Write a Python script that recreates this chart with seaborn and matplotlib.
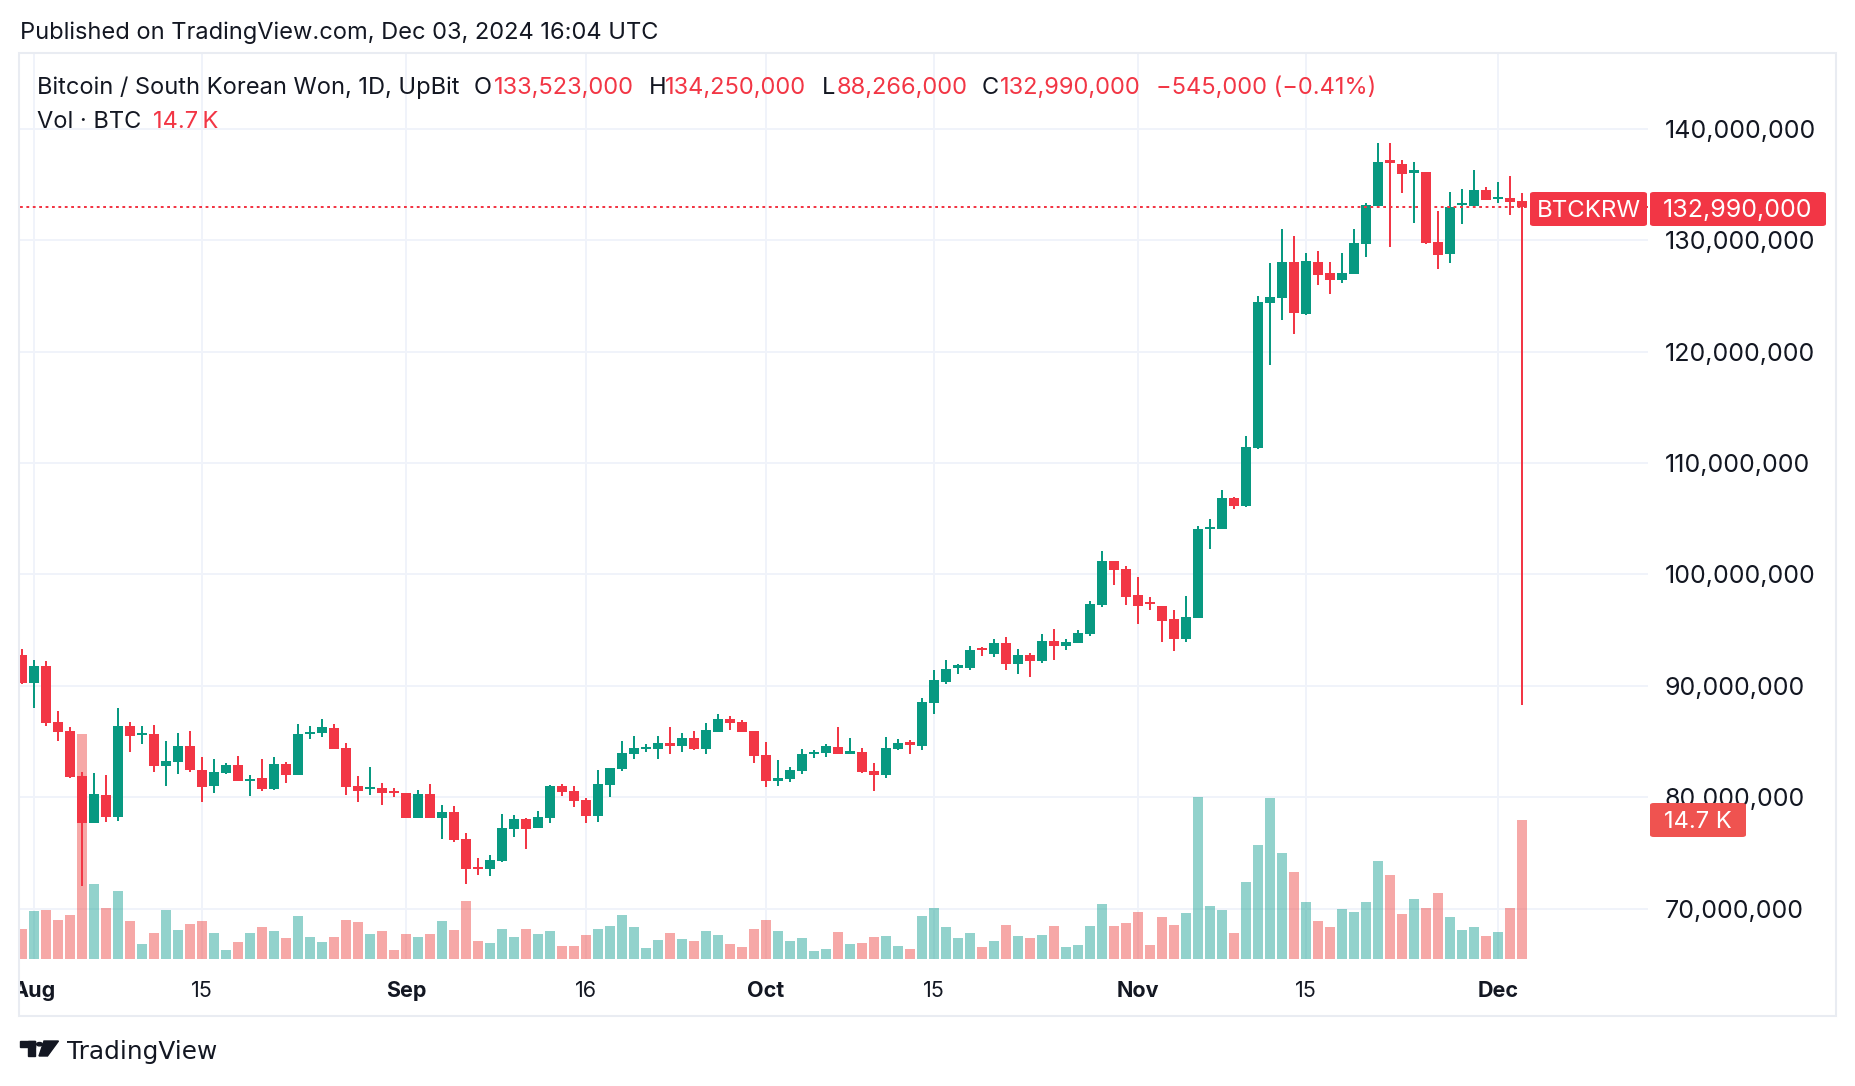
import numpy as np
import pandas as pd
import matplotlib
matplotlib.use("Agg")
import matplotlib.pyplot as plt
import seaborn as sns
from matplotlib.patches import FancyBboxPatch, Rectangle, Circle, Polygon
from matplotlib.transforms import Bbox, TransformedBbox

sns.set_theme(style="white")
plt.rcParams['font.family'] = ['Inter', 'DejaVu Sans']

# daily candles, Jul 31 -> Dec 3 2024, prices in million KRW
dates = pd.date_range("2024-07-31", "2024-12-03", freq="D")
opens = [92.76, 90.24, 91.77, 86.73, 85.92, 81.86, 77.72, 80.15, 78.26, 86.37,
         85.6, 85.65, 82.76, 83.12, 84.56, 82.4, 80.96, 82.13, 82.85, 81.5,
         81.68, 80.69, 82.94, 81.95, 85.71, 85.74, 86.19, 84.38, 80.96, 80.7,
         80.78, 80.51, 80.33, 78.17, 80.24, 78.17, 78.71, 76.28, 73.75, 73.57,
         74.29, 77.18, 78.08, 77.27, 78.17, 80.96, 80.51, 79.7, 78.35, 81.05,
         82.49, 83.84, 84.29, 84.29, 84.83, 84.56, 85.29, 84.29, 85.83, 87.0,
         86.73, 85.92, 83.75, 81.41, 81.59, 82.31, 83.84, 83.93, 84.47, 83.84,
         84.02, 82.31, 81.95, 84.29, 84.92, 84.56, 88.43, 90.31, 91.57, 91.57,
         93.37, 92.86, 93.82, 91.93, 92.74, 92.2, 94.0, 93.55, 93.82, 94.63,
         97.24, 101.2, 100.48, 98.11, 97.5, 97.16, 95.95, 94.19, 96.08, 104.1,
         104.1, 106.85, 106.13, 111.35, 124.37, 124.82, 128.06, 123.38, 128.06, 127.04,
         126.41, 127.0, 129.62, 133.06, 137.19, 136.8, 136.07, 136.12, 129.81, 128.79,
         133.2, 133.11, 134.47, 133.7, 133.79, 133.523]
highs = [93.3, 92.31, 92.22, 87.72, 86.28, 82.22, 82.13, 81.95, 87.99, 86.73,
         86.37, 86.46, 85.02, 85.74, 85.92, 83.57, 83.39, 83.03, 83.66, 81.95,
         83.39, 83.57, 83.12, 86.55, 86.37, 87.0, 86.55, 84.83, 81.86, 82.67,
         81.23, 80.78, 80.33, 80.6, 81.14, 79.25, 79.16, 76.82, 74.56, 74.83,
         78.53, 78.44, 78.17, 78.8, 81.05, 81.14, 80.96, 79.88, 82.4, 82.6,
         85.02, 85.47, 84.74, 85.47, 86.28, 85.74, 85.92, 86.64, 87.45, 87.27,
         86.91, 85.92, 84.92, 83.3, 82.67, 84.29, 84.2, 84.74, 86.28, 85.29,
         84.38, 83.03, 85.37, 85.19, 85.1, 88.88, 91.39, 92.29, 91.93, 93.55,
         93.46, 94.18, 94.36, 93.28, 92.92, 94.63, 95.08, 94.18, 94.99, 97.6,
         102.1, 101.2, 100.75, 99.73, 97.97, 97.16, 96.76, 98.02, 104.32, 104.95,
         107.57, 106.98, 112.43, 125.0, 127.97, 131.04, 130.41, 128.87, 129.05, 128.02,
         128.89, 130.98, 133.3, 138.74, 138.74, 137.19, 136.99, 136.12, 132.58, 134.32,
         134.57, 136.31, 134.76, 135.2, 135.73, 134.25]
lows = [90.2, 87.99, 86.37, 85.02, 81.68, 72.04, 77.72, 77.81, 77.9, 84.02,
        84.74, 82.22, 80.96, 82.04, 82.22, 79.52, 80.33, 82.04, 81.41, 80.06,
        80.51, 80.6, 81.23, 81.95, 85.2, 85.38, 84.29, 80.15, 79.52, 80.15,
        79.25, 79.97, 78.17, 78.17, 78.17, 76.28, 76.01, 72.22, 73.03, 72.94,
        74.2, 76.46, 75.38, 77.27, 77.72, 80.06, 79.07, 77.72, 77.81, 79.97,
        82.31, 83.39, 84.02, 83.39, 83.84, 84.02, 84.2, 83.84, 85.83, 86.01,
        85.83, 83.03, 80.87, 80.96, 81.32, 82.04, 83.48, 83.57, 83.84, 83.84,
        82.13, 80.51, 81.68, 84.2, 83.84, 84.2, 87.44, 90.13, 91.03, 91.39,
        92.65, 92.56, 91.39, 91.03, 90.76, 92.02, 92.29, 93.19, 93.82, 94.45,
        97.06, 99.04, 97.24, 95.54, 96.76, 93.92, 93.11, 93.92, 96.08, 102.3,
        104.1, 105.9, 106.04, 111.26, 118.83, 122.79, 121.62, 123.29, 125.99, 125.2,
        126.17, 127.0, 128.45, 133.06, 129.42, 134.23, 131.5, 129.62, 127.38, 127.92,
        131.41, 133.11, 133.6, 133.35, 132.24, 88.266]
closes = [90.24, 91.77, 86.64, 85.83, 81.77, 77.72, 80.24, 78.26, 86.37, 85.47,
          85.7, 82.76, 83.21, 84.56, 82.4, 80.87, 82.22, 82.85, 81.41, 81.6,
          80.69, 82.94, 81.95, 85.65, 85.86, 86.28, 84.29, 80.87, 80.51, 80.87,
          80.33, 80.33, 78.17, 80.24, 78.17, 78.71, 76.19, 73.57, 73.57, 74.38,
          77.27, 78.08, 77.18, 78.26, 80.96, 80.42, 79.61, 78.35, 81.14, 82.58,
          83.93, 84.38, 84.47, 84.83, 84.56, 85.29, 84.29, 86.01, 87.0, 86.64,
          85.83, 83.66, 81.41, 81.68, 82.4, 83.84, 84.02, 84.56, 83.84, 84.11,
          82.22, 81.95, 84.38, 84.83, 84.65, 88.52, 90.49, 91.48, 91.84, 93.19,
          93.19, 93.82, 91.93, 92.74, 92.2, 94.0, 93.55, 93.91, 94.72, 97.33,
          101.2, 100.39, 97.96, 97.16, 97.3, 95.81, 94.19, 96.13, 104.05, 104.2,
          106.85, 106.17, 111.44, 124.46, 124.91, 128.06, 123.47, 128.15, 126.89, 126.41,
          127.09, 129.71, 133.2, 137.0, 136.9, 135.92, 136.26, 129.71, 128.69, 132.96,
          133.35, 134.52, 133.6, 133.89, 133.45, 132.99]
# volume in thousand BTC
volume_k = [3.2, 5.1, 5.2, 4.1, 4.7, 23.8, 7.9, 5.4, 7.2, 4.0,
            1.6, 2.8, 5.2, 3.1, 3.7, 4.0, 2.8, 1.0, 1.8, 2.8,
            3.4, 3.0, 2.2, 4.5, 2.3, 1.8, 2.3, 4.1, 3.9, 2.6,
            3.0, 1.0, 2.6, 2.3, 2.6, 4.0, 3.1, 6.1, 1.9, 1.7,
            3.2, 2.3, 3.2, 2.6, 3.0, 1.4, 1.4, 2.5, 3.2, 3.5,
            4.7, 3.4, 1.2, 2.0, 2.8, 2.1, 1.9, 3.0, 2.5, 1.6,
            1.3, 3.2, 4.1, 3.0, 1.9, 2.2, 0.8, 1.1, 2.9, 1.6,
            1.7, 2.3, 2.4, 1.4, 1.1, 4.5, 5.4, 3.4, 2.2, 2.8,
            1.3, 1.9, 3.6, 2.4, 2.2, 2.5, 3.5, 1.3, 1.5, 3.5,
            5.8, 3.5, 3.8, 5.0, 1.5, 4.4, 3.6, 4.9, 17.1, 5.6,
            5.2, 2.8, 8.1, 12.1, 17.0, 11.2, 9.2, 6.0, 4.0, 3.4,
            5.3, 5.0, 6.0, 10.4, 8.9, 4.8, 6.3, 5.4, 7.0, 4.4,
            3.1, 3.4, 2.4, 2.9, 5.4, 14.7]

tick_dates = ["2024-08-01", "2024-08-15", "2024-09-01", "2024-09-16", "2024-10-01",
              "2024-10-15", "2024-11-01", "2024-11-15", "2024-12-01"]
tick_labels = ["Aug", "15", "Sep", "16", "Oct", "15", "Nov", "15", "Dec"]
price_ticks = [70, 80, 90, 100, 110, 120, 130, 140]

GREEN = "#089981"
RED = "#F23645"
INK = "#131722"

W, H = 1856, 1086
fig = plt.figure(figsize=(W / 100, H / 100), dpi=100)
fig.patch.set_facecolor("white")


def fx(x):
    return x / W


def fy(y):
    return 1 - y / H


def rect_px(x0, y0, x1, y1):
    return [fx(x0), fy(y1), (x1 - x0) / W, (y1 - y0) / H]


start = pd.Timestamp("2024-08-01")
xs = np.array((dates - start).days)
o = np.array(opens)
c = np.array(closes)
up = c >= o
cols = np.where(up, GREEN, RED)

plot_rect = rect_px(20, 53, 1648, 959)
ax_g = fig.add_axes(plot_rect)
ax_v = fig.add_axes(plot_rect, sharex=ax_g)
ax_c = fig.add_axes(plot_rect, sharex=ax_g, sharey=ax_g)

# volume (seaborn)
vol_df = pd.DataFrame({"x": xs, "vol": volume_k, "dir": np.where(up, "up", "down")})
sns.barplot(data=vol_df, x="x", y="vol", hue="dir", native_scale=True, dodge=False,
            palette={"up": "#26a69a", "down": "#ef5350"}, alpha=0.5, saturation=1,
            width=0.83, errorbar=None, legend=False, linewidth=0, ax=ax_v)
ax_v.set_ylim(0, 95.85)
ax_v.axis("off")

# candles
ax_c.vlines(xs, lows, highs, colors=cols, linewidth=1.44, zorder=2)
body_h = np.maximum(np.abs(c - o), 0.18)
body_b = (o + c) / 2 - body_h / 2
ax_c.bar(xs, body_h, bottom=body_b, width=0.83, color=cols, linewidth=0, zorder=3)
ax_c.axhline(closes[-1], color=RED, linewidth=1.44, linestyle=(0, (1.4, 1.8)), zorder=4)
ax_c.axis("off")

# grid + axes labels
tick_x = [(pd.Timestamp(t) - start).days for t in tick_dates]
ax_g.set_xlim(-1.167, 134.5)
ax_g.set_ylim(65.47, 146.8)
ax_g.set_xticks(tick_x)
ax_g.set_xticklabels(tick_labels)
ax_g.set_yticks(price_ticks)
ax_g.set_yticklabels([f"{v * 1_000_000:,.0f}" for v in price_ticks])
ax_g.yaxis.tick_right()
ax_g.tick_params(axis="y", length=0, pad=12.2, labelsize=18, labelcolor=INK)
ax_g.tick_params(axis="x", length=0, pad=15.5, labelsize=15.5, labelcolor=INK)
ax_g.grid(True, color="#F0F3FA", linewidth=1.44)
for s in ax_g.spines.values():
    s.set_visible(False)
clip = TransformedBbox(Bbox.from_extents(fx(20), 0, 1, 1), fig.transFigure)
for lbl in ax_g.get_xticklabels():
    if not lbl.get_text().isdigit():
        lbl.set_fontweight("bold")
    lbl.set_clip_box(clip)
    lbl.set_clip_on(True)
ax_v.set_xlim(-1.167, 134.5)

# outer frame
fig.add_artist(Rectangle((fx(19), fy(1016)), fx(1836) - fx(19), fy(53) - fy(1016),
                         transform=fig.transFigure, fill=False, edgecolor="#E9ECF2",
                         linewidth=1.5))

# header + legend
fig.text(fx(20), fy(39.3), "Published on TradingView.com, Dec 03, 2024 16:04 UTC",
         fontsize=17, color=INK, va="baseline")
legend_items = [(37, "Bitcoin / South Korean Won, 1D, UpBit", INK),
                (474, "O", INK), (494, "133,523,000", RED),
                (649, "H", INK), (665, "134,250,000", RED),
                (822, "L", INK), (837, "88,266,000", RED),
                (982, "C", INK), (1000, "132,990,000", RED),
                (1156, "\u2212545,000 (\u22120.41%)", RED)]
for x, s, col in legend_items:
    fig.text(fx(x), fy(94.3), s, fontsize=17, color=col, va="baseline")
fig.text(fx(37), fy(128), "Vol \u00b7 BTC", fontsize=17, color=INK, va="baseline")
fig.text(fx(153), fy(128), "14.7\u2009K", fontsize=17, color=RED, va="baseline")

# price / volume labels on the right
def tag(x0, y0, x1, y1, text, color, baseline, size):
    fig.add_artist(FancyBboxPatch((fx(x0), fy(y1)), fx(x1) - fx(x0), fy(y0) - fy(y1),
                                  boxstyle="round,pad=0,rounding_size=0.002",
                                  transform=fig.transFigure, facecolor=color,
                                  edgecolor="none"))
    fig.text((fx(x0) + fx(x1)) / 2, fy(baseline), text, fontsize=size, color="white",
             ha="center", va="baseline")


tag(1530, 192, 1647, 226, "BTCKRW", RED, 216.7, 17.3)
tag(1650, 192, 1826, 226, f"{closes[-1] * 1_000_000:,.0f}", RED, 216.7, 18)
tag(1650, 803, 1746, 837, "14.7 K", "#EF5350", 827.7, 17)

# TradingView logo
fig.add_artist(Rectangle((fx(20), fy(1047)), fx(35) - fx(20), fy(1041) - fy(1047),
                         transform=fig.transFigure, color=INK))
fig.add_artist(Rectangle((fx(28.5), fy(1056)), fx(35) - fx(28.5), fy(1041) - fy(1056),
                         transform=fig.transFigure, color=INK))
fig.add_artist(Circle((fx(39.5), fy(1044.2)), 2.9 / W, transform=fig.transFigure, color=INK))
fig.add_artist(Polygon([(fx(44), fy(1041)), (fx(58.5), fy(1041)), (fx(47.5), fy(1056)),
                        (fx(39), fy(1056))], closed=True, transform=fig.transFigure, color=INK))
fig.text(fx(67), fy(1058.5), "TradingView", fontsize=17.8, color=INK, va="baseline",
         family=["DejaVu Sans"])

fig.savefig("out.png", dpi=100, facecolor="white")
